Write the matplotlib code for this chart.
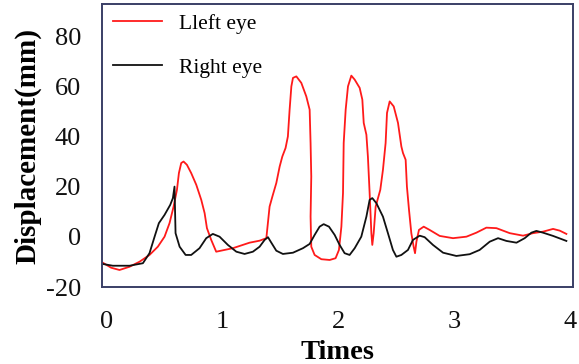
import matplotlib
matplotlib.use("Agg")
import matplotlib.pyplot as plt

# Left eye (red) trace
left_x = [-0.032, 0.040, 0.112, 0.199, 0.285, 0.371, 0.443, 0.501, 0.544, 0.579, 0.608, 0.625,
          0.645, 0.665, 0.694, 0.731, 0.775, 0.818, 0.847, 0.867, 0.904, 0.947, 1.091, 1.235,
          1.322, 1.380, 1.408, 1.432, 1.466, 1.495, 1.518, 1.546, 1.566, 1.581, 1.596, 1.610,
          1.639, 1.682, 1.725, 1.754, 1.762, 1.768, 1.762, 1.768, 1.797, 1.855, 1.927, 1.978,
          2.007, 2.028, 2.042, 2.048, 2.065, 2.085, 2.114, 2.143, 2.186, 2.209, 2.221, 2.244,
          2.257, 2.272, 2.287, 2.295, 2.307, 2.324, 2.364, 2.387, 2.410, 2.422, 2.445, 2.480,
          2.517, 2.546, 2.560, 2.583, 2.594, 2.612, 2.632, 2.652, 2.664, 2.676, 2.698, 2.739,
          2.790, 2.877, 2.992, 3.108, 3.194, 3.280, 3.367, 3.482, 3.597, 3.683, 3.769, 3.856,
          3.914, 3.971]
left_y = [-10.3, -12.3, -13.2, -11.9, -9.9, -7.2, -3.9, 0.1, 5.5, 12.1, 18.8, 25.5,
          29.5, 30.1, 28.8, 25.5, 20.8, 14.8, 9.5, 3.5, -1.2, -5.9, -4.5, -2.3,
          -1.5, -0.5, 12.1, 16.1, 21.5, 28.1, 32.1, 35.5, 40.1, 50.8, 60.1, 63.5,
          64.1, 61.5, 56.1, 50.8, 37.5, 24.1, 8.1, -3.9, -7.2, -8.9, -9.2, -8.5,
          -5.2, 4.1, 17.5, 37.5, 50.8, 60.1, 64.4, 62.8, 59.5, 54.8, 45.5, 40.8,
          32.1, 17.5, 1.5, -3.2, 1.5, 12.1, 18.8, 26.8, 37.5, 49.5, 54.1, 52.1,
          45.5, 36.1, 33.5, 30.8, 20.1, 10.8, 1.5, -3.9, -6.5, -1.9, 2.8, 4.1,
          2.8, 0.4, -0.5, 0.1, 1.7, 3.7, 3.5, 1.5, 0.5, 1.5, 2.1, 3.2,
          2.5, 1.2]

# Right eye (black) trace
right_x = [-0.032, 0.054, 0.199, 0.314, 0.371, 0.415, 0.452, 0.501, 0.550, 0.573, 0.587, 0.596,
           0.631, 0.683, 0.731, 0.803, 0.861, 0.918, 0.976, 1.048, 1.121, 1.192, 1.264, 1.322,
           1.365, 1.394, 1.423, 1.466, 1.523, 1.610, 1.696, 1.754, 1.797, 1.840, 1.875, 1.921,
           1.970, 2.013, 2.056, 2.099, 2.143, 2.200, 2.244, 2.272, 2.295, 2.330, 2.387, 2.430,
           2.473, 2.503, 2.546, 2.603, 2.646, 2.704, 2.747, 2.819, 2.906, 3.021, 3.136, 3.222,
           3.309, 3.381, 3.453, 3.540, 3.611, 3.669, 3.712, 3.769, 3.856, 3.971]
right_y = [-10.8, -11.5, -11.5, -10.5, -6.5, 0.1, 5.5, 8.8, 12.8, 15.5, 20.1, 1.5,
           -3.9, -7.2, -7.2, -4.5, -0.5, 1.2, 0.1, -3.2, -5.9, -6.8, -5.9, -3.9,
           -1.2, -0.1, -2.3, -5.5, -6.8, -6.3, -4.5, -2.8, 0.8, 4.1, 5.1, 4.1,
           0.8, -3.2, -6.5, -7.2, -4.5, 0.1, 8.1, 14.8, 15.5, 13.5, 8.1, 1.5,
           -5.2, -7.9, -7.2, -5.2, -1.2, 0.5, -0.1, -3.2, -6.3, -7.6, -6.9, -5.2,
           -1.9, -0.5, -1.6, -2.3, -0.5, 1.7, 2.4, 1.7, 0.4, -1.6]

x_ticks = [0, 1, 2, 3, 4]
y_ticks = [-20, 0, 20, 40, 60, 80]
labels = ["Lleft eye", "Right eye"]

plt.rcParams['font.family'] = ['Liberation Serif', 'DejaVu Serif']
plt.rcParams['axes.unicode_minus'] = False

fig = plt.figure(figsize=(5.79, 3.64), dpi=100)
ax = fig.add_axes([0.176, 0.2115, 0.814, 0.7775])

ax.plot(left_x, left_y, color='#ff1a1a', lw=1.3, label=labels[0])
ax.plot(right_x, right_y, color='#111111', lw=1.3, label=labels[1])

ax.set_xlim(-0.04, 4.03)
ax.set_ylim(-20, 93)
ax.set_xticks(x_ticks)
ax.set_yticks(y_ticks)
ax.tick_params(axis='both', length=0, labelsize=19, colors='#111111')
ax.tick_params(axis='y', pad=15)
ax.tick_params(axis='x', pad=17)

for s in ax.spines.values():
    s.set_color('#3a3f66')
    s.set_linewidth(1.4)

ax.set_xlabel("Times", fontsize=20.5, fontweight='bold', labelpad=5)
ax.set_ylabel("Displacement(mm)", fontsize=21, fontweight='bold', labelpad=3)

ax.legend(loc='upper left', bbox_to_anchor=(0.023, 0.965), frameon=False,
          fontsize=15.5, handlelength=2.3, handletextpad=0.8, labelspacing=1.1,
          borderpad=0, borderaxespad=0)

fig.savefig("out.png", dpi=100)
